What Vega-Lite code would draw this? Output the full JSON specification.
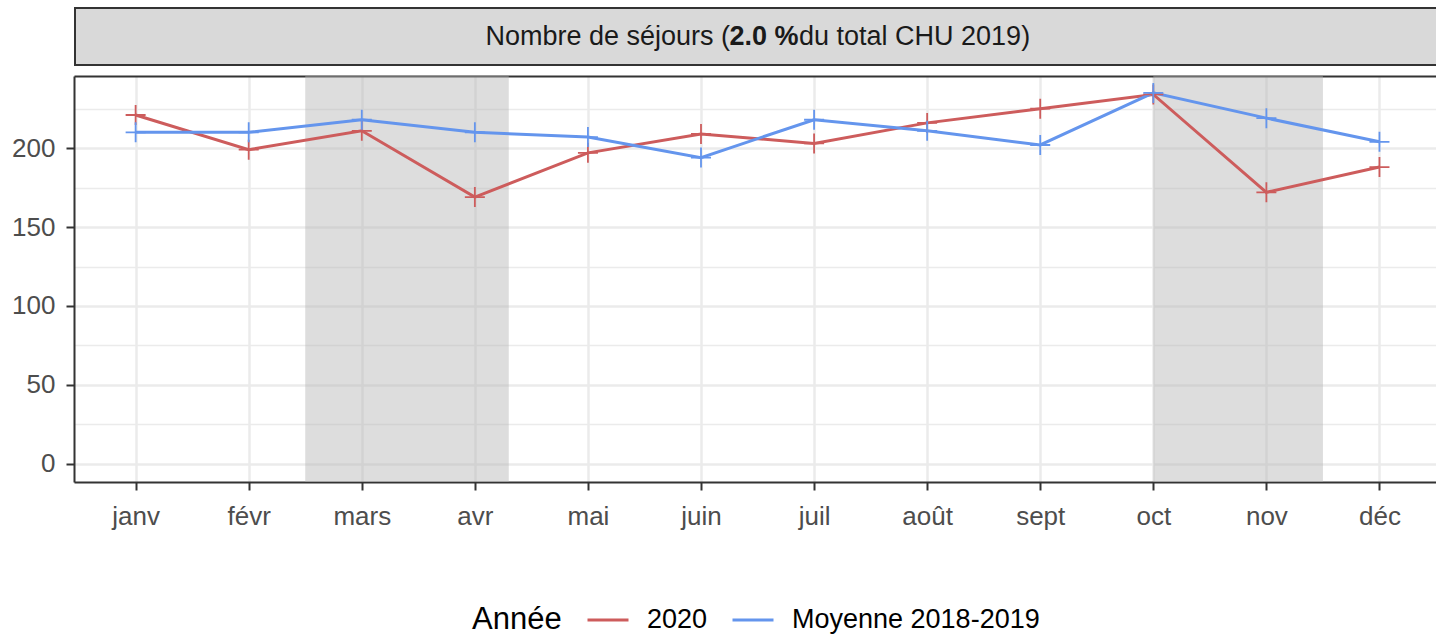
{
  "$schema": "https://vega.github.io/schema/vega-lite/v6.json",
  "padding": {"left": 0, "top": 7, "right": 0, "bottom": 0},
  "background": "white",
  "config": {
    "font": "Liberation Sans, Arial, sans-serif",
    "view": {"stroke": null},
    "concat": {"spacing": 10}
  },
  "datasets": {
    "series": [
      {"mois": 1, "annee": "2020", "valeur": 221},
      {"mois": 2, "annee": "2020", "valeur": 199},
      {"mois": 3, "annee": "2020", "valeur": 211},
      {"mois": 4, "annee": "2020", "valeur": 169},
      {"mois": 5, "annee": "2020", "valeur": 197},
      {"mois": 6, "annee": "2020", "valeur": 209},
      {"mois": 7, "annee": "2020", "valeur": 203},
      {"mois": 8, "annee": "2020", "valeur": 216},
      {"mois": 9, "annee": "2020", "valeur": 225},
      {"mois": 10, "annee": "2020", "valeur": 234},
      {"mois": 11, "annee": "2020", "valeur": 172},
      {"mois": 12, "annee": "2020", "valeur": 188},
      {"mois": 1, "annee": "Moyenne 2018-2019", "valeur": 210},
      {"mois": 2, "annee": "Moyenne 2018-2019", "valeur": 210},
      {"mois": 3, "annee": "Moyenne 2018-2019", "valeur": 218},
      {"mois": 4, "annee": "Moyenne 2018-2019", "valeur": 210},
      {"mois": 5, "annee": "Moyenne 2018-2019", "valeur": 207},
      {"mois": 6, "annee": "Moyenne 2018-2019", "valeur": 194},
      {"mois": 7, "annee": "Moyenne 2018-2019", "valeur": 218},
      {"mois": 8, "annee": "Moyenne 2018-2019", "valeur": 211},
      {"mois": 9, "annee": "Moyenne 2018-2019", "valeur": 202},
      {"mois": 10, "annee": "Moyenne 2018-2019", "valeur": 235},
      {"mois": 11, "annee": "Moyenne 2018-2019", "valeur": 219},
      {"mois": 12, "annee": "Moyenne 2018-2019", "valeur": 204}
    ],
    "confinement": [
      {"debut": 2.5, "fin": 4.3},
      {"debut": 10.0, "fin": 11.5}
    ],
    "bandeau": [
      {"partie1": "Nombre de séjours (", "partie2": "2.0 %", "partie3": "du total CHU 2019)"}
    ]
  },
  "vconcat": [
    {
      "width": 1362,
      "height": 59,
      "data": {"name": "bandeau"},
      "layer": [
        {
          "mark": {"type": "rect", "fill": "#D9D9D9", "stroke": "#333333", "strokeWidth": 4, "clip": true, "strokeDash": [1362, 59, 1421, 0]},
          "encoding": {}
        },
        {
          "mark": {"type": "text", "align": "right", "baseline": "middle", "dx": -25, "fontSize": 27, "color": "#1A1A1A"},
          "encoding": {"text": {"field": "partie1"}}
        },
        {
          "mark": {"type": "text", "align": "center", "baseline": "middle", "dx": 9, "fontSize": 27, "fontWeight": "bold", "color": "#1A1A1A"},
          "encoding": {"text": {"field": "partie2"}}
        },
        {
          "mark": {"type": "text", "align": "left", "baseline": "middle", "dx": 44, "fontSize": 27, "color": "#1A1A1A"},
          "encoding": {"text": {"field": "partie3"}}
        }
      ]
    },
    {
      "width": 1362,
      "height": 406,
      "layer": [
        {
          "data": {"name": "confinement"},
          "mark": {"type": "rect", "color": "#B3B3B3", "opacity": 0.45},
          "encoding": {
            "x": {
              "field": "debut",
              "type": "quantitative",
              "scale": {"domain": [0.455, 12.5], "nice": false, "zero": false},
              "axis": {"orient": "top", "domain": true, "domainColor": "#333333", "domainWidth": 2, "ticks": false, "labels": false, "grid": false, "title": null}
            },
            "x2": {"field": "fin"}
          }
        },
        {
          "data": {"name": "series"},
          "mark": {"type": "line", "strokeWidth": 3},
          "encoding": {
            "x": {
              "field": "mois",
              "type": "quantitative",
              "axis": {
                "orient": "bottom",
                "values": [1, 2, 3, 4, 5, 6, 7, 8, 9, 10, 11, 12],
                "labelExpr": "['janv','févr','mars','avr','mai','juin','juil','août','sept','oct','nov','déc'][datum.value - 1]",
                "title": null,
                "grid": true,
                "gridColor": "#EBEBEB",
                "gridWidth": 2.5,
                "domainColor": "#333333",
                "domainWidth": 2,
                "tickColor": "#333333",
                "tickWidth": 2,
                "tickSize": 8,
                "labelFontSize": 26,
                "labelColor": "#4D4D4D",
                "labelPadding": 13,
                "labelFlush": false,
                "labelOverlap": false
              }
            },
            "y": {
              "field": "valeur",
              "type": "quantitative",
              "scale": {"domain": [-11.5, 245.7], "nice": false, "zero": false},
              "axis": {
                "values": [0, 25, 50, 75, 100, 125, 150, 175, 200, 225],
                "labelExpr": "datum.value % 50 === 0 ? datum.label : ''",
                "title": null,
                "grid": true,
                "gridColor": "#EBEBEB",
                "gridWidth": {"condition": {"test": "datum.value % 50 === 0", "value": 2.5}, "value": 1.3},
                "tickOpacity": {"condition": {"test": "datum.value % 50 === 0", "value": 1}, "value": 0},
                "domainColor": "#333333",
                "domainWidth": 2,
                "tickColor": "#333333",
                "tickWidth": 2,
                "tickSize": 8,
                "labelFontSize": 26,
                "labelColor": "#4D4D4D",
                "labelPadding": 11,
                "labelFlush": false,
                "labelOverlap": false,
                "minExtent": 74,
                "maxExtent": 74
              }
            },
            "color": {
              "field": "annee",
              "type": "nominal",
              "scale": {"domain": ["2020", "Moyenne 2018-2019"], "range": ["#CD5C5C", "#6495ED"]},
              "legend": {
                "orient": "none",
                "legendX": 398,
                "legendY": 591,
                "direction": "horizontal",
                "title": "Année",
                "titleOrient": "left",
                "titleAnchor": "start",
                "titleBaseline": "line-top",
                "titleLineHeight": 45,
                "titleFontSize": 31,
                "titleFontWeight": "normal",
                "titleColor": "black",
                "titlePadding": 24,
                "labelFontSize": 27,
                "labelColor": "black",
                "labelLimit": 400,
                "labelOffset": 17,
                "columnPadding": 18,
                "symbolType": "stroke",
                "symbolSize": 1681,
                "symbolStrokeWidth": 3,
                "padding": 0
              }
            }
          }
        },
        {
          "data": {"name": "series"},
          "mark": {"type": "point", "shape": "M-1,0H1M0,-1V1", "size": 400, "strokeWidth": 1.8, "filled": false, "opacity": 1},
          "encoding": {
            "x": {"field": "mois", "type": "quantitative", "axis": null},
            "y": {
              "field": "valeur",
              "type": "quantitative",
              "axis": {
                "values": [0, 25, 50, 75, 100, 125, 150, 175, 200, 225],
                "labelExpr": "datum.value % 50 === 0 ? datum.label : ''",
                "title": null,
                "grid": true,
                "gridColor": "#EBEBEB",
                "gridWidth": {"condition": {"test": "datum.value % 50 === 0", "value": 2.5}, "value": 1.3},
                "tickOpacity": {"condition": {"test": "datum.value % 50 === 0", "value": 1}, "value": 0},
                "domainColor": "#333333",
                "domainWidth": 2,
                "tickColor": "#333333",
                "tickWidth": 2,
                "tickSize": 8,
                "labelFontSize": 26,
                "labelColor": "#4D4D4D",
                "labelPadding": 11,
                "labelFlush": false,
                "labelOverlap": false,
                "minExtent": 74,
                "maxExtent": 74
              }
            },
            "color": {"field": "annee", "type": "nominal", "legend": null}
          }
        }
      ],
      "resolve": {"axis": {"x": "independent"}}
    }
  ]
}
